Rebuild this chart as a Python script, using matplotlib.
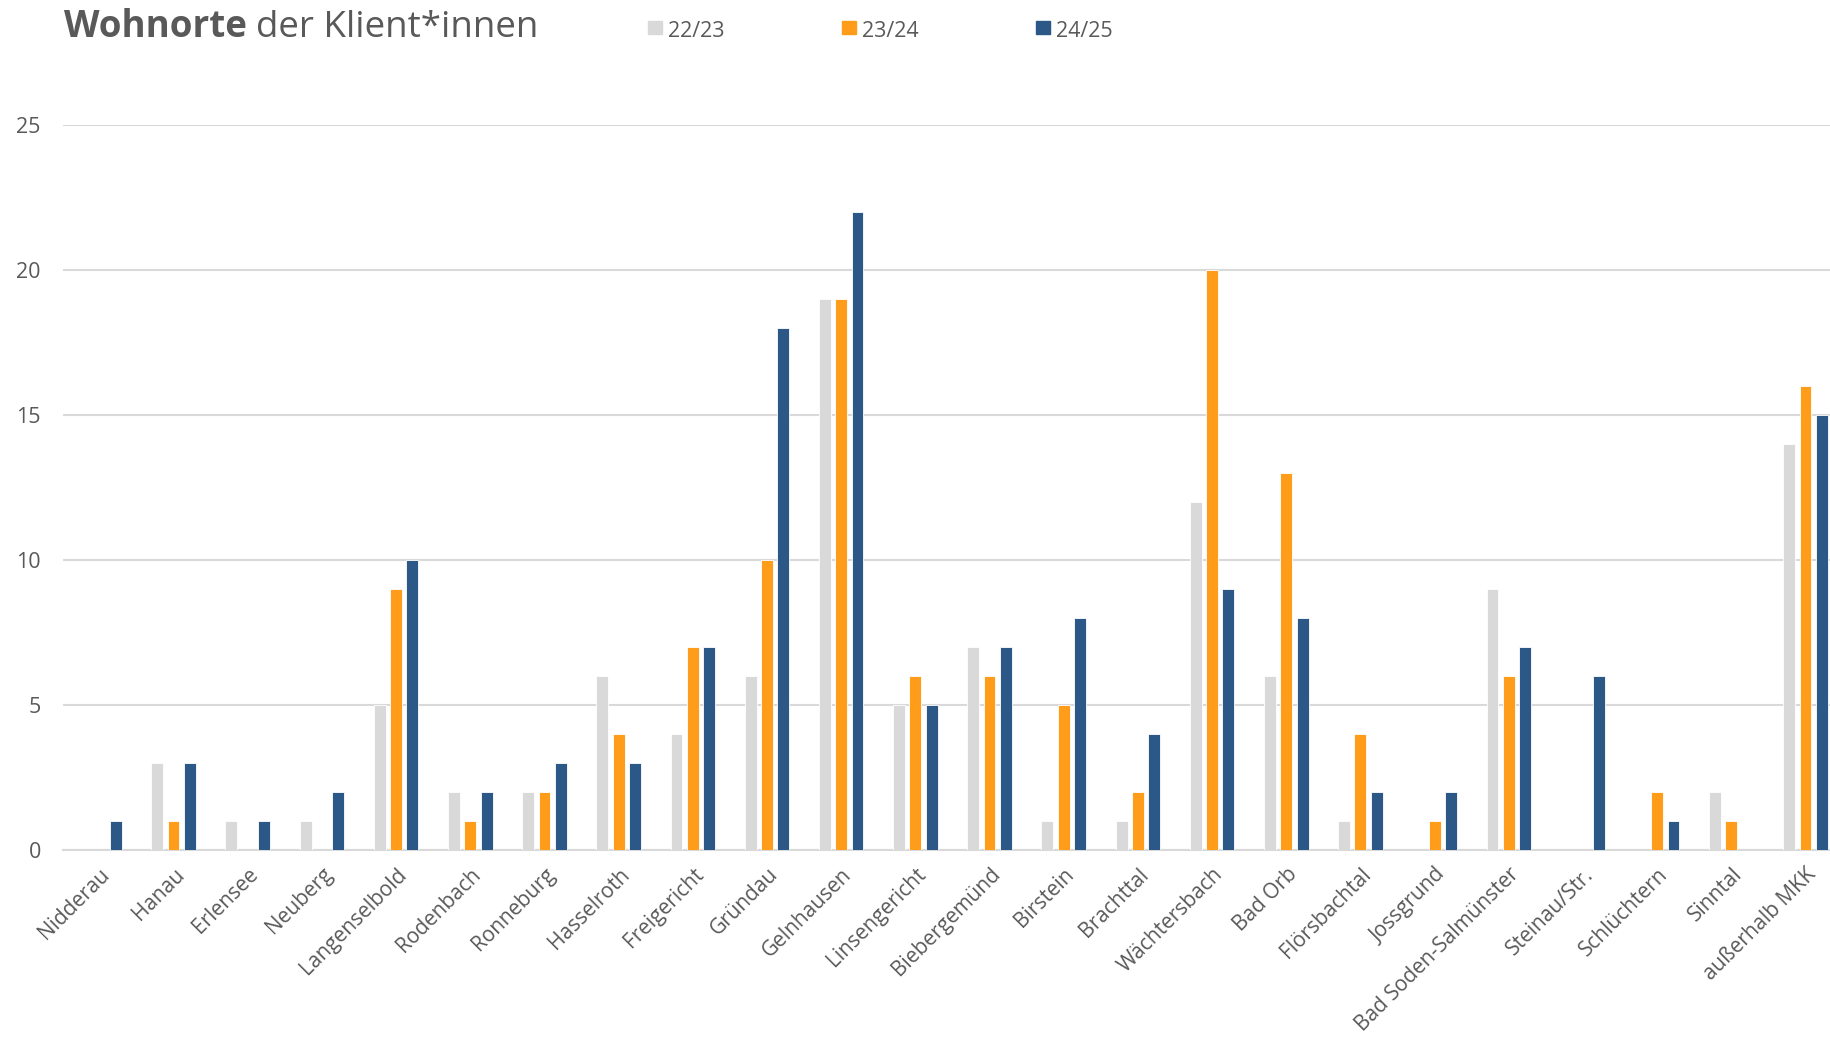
import matplotlib
matplotlib.use("Agg")
import matplotlib.pyplot as plt
from matplotlib.patches import Rectangle
import numpy as np

plt.rcParams['font.family'] = ['Open Sans', 'DejaVu Sans']

orte = ['Nidderau', 'Hanau', 'Erlensee', 'Neuberg', 'Langenselbold', 'Rodenbach',
        'Ronneburg', 'Hasselroth', 'Freigericht', 'Gründau', 'Gelnhausen',
        'Linsengericht', 'Biebergemünd', 'Birstein', 'Brachttal', 'Wächtersbach',
        'Bad Orb', 'Flörsbachtal', 'Jossgrund', 'Bad Soden-Salmünster',
        'Steinau/Str.', 'Schlüchtern', 'Sinntal', 'außerhalb MKK']
jahre = ['22/23', '23/24', '24/25']
werte_2223 = [0, 3, 1, 1, 5, 2, 2, 6, 4, 6, 19, 5, 7, 1, 1, 12, 6, 1, 0, 9, 0, 0, 2, 14]
werte_2324 = [0, 1, 0, 0, 9, 1, 2, 4, 7, 10, 19, 6, 6, 5, 2, 20, 13, 4, 1, 6, 0, 2, 1, 16]
werte_2425 = [1, 3, 1, 2, 10, 2, 3, 3, 7, 18, 22, 5, 7, 8, 4, 9, 8, 2, 2, 7, 6, 1, 0, 15]
farben = ['#d9d9d9', '#ff9c1a', '#2b5886']
textfarbe = '#595959'

W, H = 1830, 1038
fig = plt.figure(figsize=(W / 100, H / 100), dpi=100)
ax = fig.add_axes([63 / W, (H - 850) / H, 1 - 63 / W, (850 - 125) / H])

x = np.arange(len(orte))
bw = 0.16
off = 0.22
for i, (werte, f) in enumerate(zip([werte_2223, werte_2324, werte_2425], farben)):
    ax.bar(x + (i - 1) * off, werte, width=bw, color=f, edgecolor='white',
           linewidth=0.6, zorder=3)

ax.set_xlim(-0.49, 23.33)
ax.set_ylim(0, 25)
ax.set_yticks([0, 5, 10, 15, 20, 25])
ax.yaxis.grid(True, color='#d9d9d9', linewidth=1.5, zorder=0)
ax.set_axisbelow(True)
for s in ['top', 'right', 'left']:
    ax.spines[s].set_visible(False)
ax.spines['bottom'].set_color('#d9d9d9')
ax.spines['bottom'].set_linewidth(1.5)
ax.tick_params(axis='both', length=0, labelcolor=textfarbe)
ax.tick_params(axis='y', pad=16, labelsize=15.5)
ax.set_xticks(x)
ax.set_xticklabels(orte, rotation=45, ha='right', rotation_mode='anchor')
ax.tick_params(axis='x', pad=10, labelsize=15)

# Titel: fetter Teil + normaler Teil
t1 = fig.text(64 / W, 1 - 37 / H, 'Wohnorte', fontsize=26.5, fontweight='bold',
              color=textfarbe, va='baseline')
fig.canvas.draw()
bb = t1.get_window_extent()
fig.text((bb.x1 + 9) / W, 1 - 37 / H, 'der Klient*innen', fontsize=26.5,
         color=textfarbe, va='baseline')

# Legende
for i, (j, f) in enumerate(zip(jahre, farben)):
    lx = 648 + i * 194
    fig.patches.append(Rectangle((lx / W, 1 - 34 / H), 14 / W, 13 / H,
                                 transform=fig.transFigure, color=f))
    fig.text((lx + 20) / W, 1 - 37 / H, j, fontsize=15.5, color=textfarbe,
             va='baseline')

fig.savefig('out.png', dpi=100)
